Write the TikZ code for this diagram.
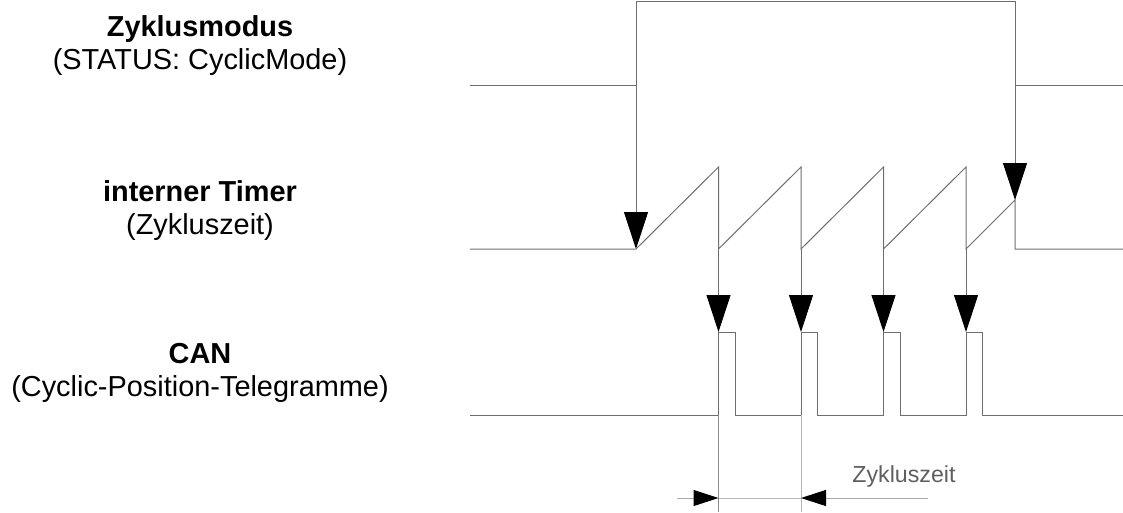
\documentclass[tikz,border=0pt]{standalone}
\usepackage{fontspec}
\setmainfont{Liberation Sans}
\usetikzlibrary{arrows.meta}
\definecolor{linegrey}{RGB}{110,110,110}
\definecolor{textgrey}{RGB}{95,95,95}
\tikzset{
  sig/.style={draw=linegrey, line width=1pt},
  trig/.style={sig, -{Triangle[length=37pt,width=24pt,black]}},
  dimtip/.style={draw=linegrey!60, line width=1pt, -{Triangle[length=25pt,width=16pt,black]}},
  lbl/.style={align=center, inner sep=0pt, font=\fontsize{28.9}{33}\selectfont}
}

\begin{document}
\begin{tikzpicture}[x=1pt, y=-1pt]
\useasboundingbox (0,0) rectangle (1123,512);
% labels
\node[lbl] (modus) at (200,46) {\textbf{Zyklusmodus}\\(STATUS: CyclicMode)};
\node[lbl] (timer) at (200,211) {\textbf{interner Timer}\\(Zykluszeit)};
\node[lbl] (can) at (200,373) {\textbf{CAN}\\(Cyclic-Position-Telegramme)};
% Zyklusmodus
\coordinate (on) at (636,85);
\coordinate (off) at (1015,85);
\coordinate (start) at (636,249);
\coordinate (stop) at (1015,200);
\draw[sig] (470,85) -- (on) -- (636,1.5) -- (1015,1.5) -- (off) -- (1123,85);
\draw[trig] (on) -- (start);
\draw[trig] (off) -- (stop);
% interner Timer
\draw[sig] (470,249) -- (start)
  \foreach \i in {1,...,4} { -- ++(82.5,-82) -- ++(0,82) }
  -- (stop) -- (1015,249) -- (1123,249);
% CAN
\foreach \i/\x in {1/718.5,2/801,3/883.5,4/966} {
  \coordinate (t\i) at (\x,249);
  \coordinate (c\i) at (\x,332);
  \draw[trig] (t\i) -- (c\i);
}
\draw[sig] (470,415)
  \foreach \i in {1,...,4} { -- (c\i |- 0,415) -- (c\i) -- ++(16.5,0) -- ++(0,83) }
  -- (1123,415);
% Zykluszeit
\draw[sig, draw=linegrey!80] (c1 |- 0,415) -- (c1 |- 0,512);
\draw[sig, draw=linegrey!50] (c2 |- 0,415) -- (c2 |- 0,512);
\coordinate (d1) at (c1 |- 0,498);
\coordinate (d2) at (c2 |- 0,498);
\draw[draw=linegrey!50, line width=1pt] (d1) -- (d2);
\draw[dimtip] (677,498) -- (d1);
\draw[dimtip] (928,498) -- (d2);
\node[text=textgrey, inner sep=0pt, font=\fontsize{23.2}{26}\selectfont] (zeit) at (904,476) {Zykluszeit};
\end{tikzpicture}
\end{document}
